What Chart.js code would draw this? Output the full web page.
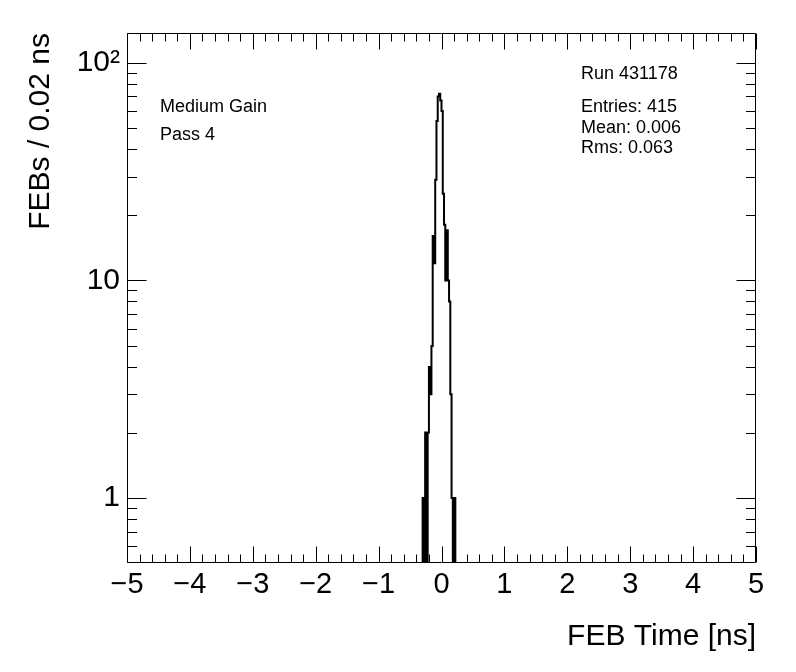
<!DOCTYPE html>
<html>
<head>
<meta charset="utf-8">
<title>FEB Time</title>
<script src="https://cdn.jsdelivr.net/npm/chart.js@4.4.1/dist/chart.umd.min.js"></script>
<style>
  html, body { margin: 0; padding: 0; background: #fff; }
  #wrap { position: relative; width: 796px; height: 672px; }
</style>
</head>
<body>
<div id="wrap"><canvas id="grafica"></canvas></div>
<script>
// Histograma de tiempos FEB, bins de 0.02 ns (borde inferior de cada bin)
const binLow = [-0.30, -0.28, -0.26, -0.24, -0.22, -0.20, -0.18, -0.16, -0.14, -0.12,
                -0.10, -0.08, -0.06, -0.04, -0.02, 0.00, 0.02, 0.04, 0.06, 0.08,
                0.10, 0.12, 0.14, 0.16, 0.18, 0.20, 0.22, 0.24];
const counts = [0, 1, 0, 2, 0, 2, 4, 3, 5, 16,
                12, 29, 54, 70, 72, 67, 60, 25, 18, 10,
                17, 10, 8, 3, 1, 0, 1, 0];
const binWidth = 0.02;

const xTickValues = [-5, -4, -3, -2, -1, 0, 1, 2, 3, 4, 5];
const yTickValues = [1, 10, 100];
const yTickLabels = ['1', '10', '10\u00B2'];
const yMin = 0.503;
const yMax = 137;

const infoLeft = ['Medium Gain', 'Pass 4'];
const infoRight = ['Run 431178', 'Entries: 415', 'Mean: 0.006', 'Rms: 0.063'];

const FONT = '"Liberation Sans", Arial, Helvetica, sans-serif';
Chart.defaults.font.family = FONT;
Chart.defaults.color = '#000';

// puntos del histograma (escalonado); los bins vacios van al suelo del eje log
const puntos = binLow.map((x, i) => ({ x: x, y: counts[i] > 0 ? counts[i] : yMin }));
puntos.push({ x: binLow[binLow.length - 1] + binWidth, y: yMin });

// marco estilo ROOT con ticks hacia dentro + textos
const marcoRoot = {
    id: 'marcoRoot',
    afterDatasetsDraw(chart) {
        const { ctx, chartArea: a, scales: { x, y } } = chart;
        const L = Math.round(a.left) + 0.5, R = Math.round(a.right) - 0.5;
        const T = Math.round(a.top) + 0.5, B = Math.round(a.bottom) - 0.5;
        ctx.save();
        ctx.strokeStyle = '#000';
        ctx.lineWidth = 1;
        ctx.beginPath();
        ctx.rect(L, T, R - L, B - T);

        for (let i = -25; i <= 25; i++) {
            const px = Math.round(x.getPixelForValue(i / 5)) + 0.5;
            const len = i % 5 === 0 ? 16 : 8;
            ctx.moveTo(px, B); ctx.lineTo(px, B - len);
            ctx.moveTo(px, T); ctx.lineTo(px, T + len);
        }

        [0.1, 1, 10, 100].forEach(d => {
            for (let m = 1; m <= 9; m++) {
                const v = m * d;
                if (v < y.min || v > y.max) continue;
                const py = Math.round(y.getPixelForValue(v)) + 0.5;
                const len = m === 1 ? 19 : 9.5;
                ctx.moveTo(L, py); ctx.lineTo(L + len, py);
                ctx.moveTo(R, py); ctx.lineTo(R - len, py);
            }
        });
        ctx.stroke();

        ctx.fillStyle = '#000';
        ctx.font = '18px ' + FONT;
        ctx.textAlign = 'left';
        ctx.textBaseline = 'middle';
        ctx.fillText(infoLeft[0], 160, 107);
        ctx.fillText(infoLeft[1], 160, 135);
        ctx.fillText(infoRight[0], 581, 74);
        ctx.fillText(infoRight[1], 581, 107);
        ctx.fillText(infoRight[2], 581, 128);
        ctx.fillText(infoRight[3], 581, 148);
        ctx.restore();
    }
};

new Chart(document.getElementById('grafica'), {
    type: 'line',
    data: {
        datasets: [{
            data: puntos,
            borderColor: '#000',
            borderWidth: 2,
            stepped: 'after',
            pointRadius: 0,
            fill: false,
            tension: 0
        }]
    },
    options: {
        responsive: true,
        maintainAspectRatio: false,
        animation: false,
        layout: { padding: { top: 33, right: 40, bottom: 0, left: 0 } },
        plugins: { legend: { display: false }, tooltip: { enabled: false } },
        scales: {
            x: {
                type: 'linear',
                min: -5,
                max: 5,
                afterFit(s) { s.height = 109; },
                afterBuildTicks(s) { s.ticks = xTickValues.map(v => ({ value: v })); },
                grid: { display: false, drawTicks: false },
                border: { display: false },
                ticks: {
                    autoSkip: false,
                    maxRotation: 0,
                    padding: 5,
                    color: '#000',
                    font: { size: 29 },
                    callback: v => v < 0 ? '\u2212' + Math.abs(v) : String(v)
                },
                title: {
                    display: true,
                    text: 'FEB Time [ns]',
                    align: 'end',
                    color: '#000',
                    font: { size: 30 },
                    padding: { top: 0, bottom: 17 }
                }
            },
            y: {
                type: 'logarithmic',
                min: yMin,
                max: yMax,
                afterFit(s) { s.width = 127; },
                afterBuildTicks(s) { s.ticks = yTickValues.map(v => ({ value: v })); },
                grid: { display: false, drawTicks: false },
                border: { display: false },
                ticks: {
                    padding: 7,
                    color: '#000',
                    font: { size: 30 },
                    callback: v => yTickLabels[yTickValues.indexOf(v)]
                },
                title: {
                    display: true,
                    text: 'FEBs / 0.02 ns',
                    align: 'end',
                    color: '#000',
                    font: { size: 30 },
                    padding: { top: 23, bottom: 0 }
                }
            }
        }
    },
    plugins: [marcoRoot]
});
</script>
</body>
</html>
